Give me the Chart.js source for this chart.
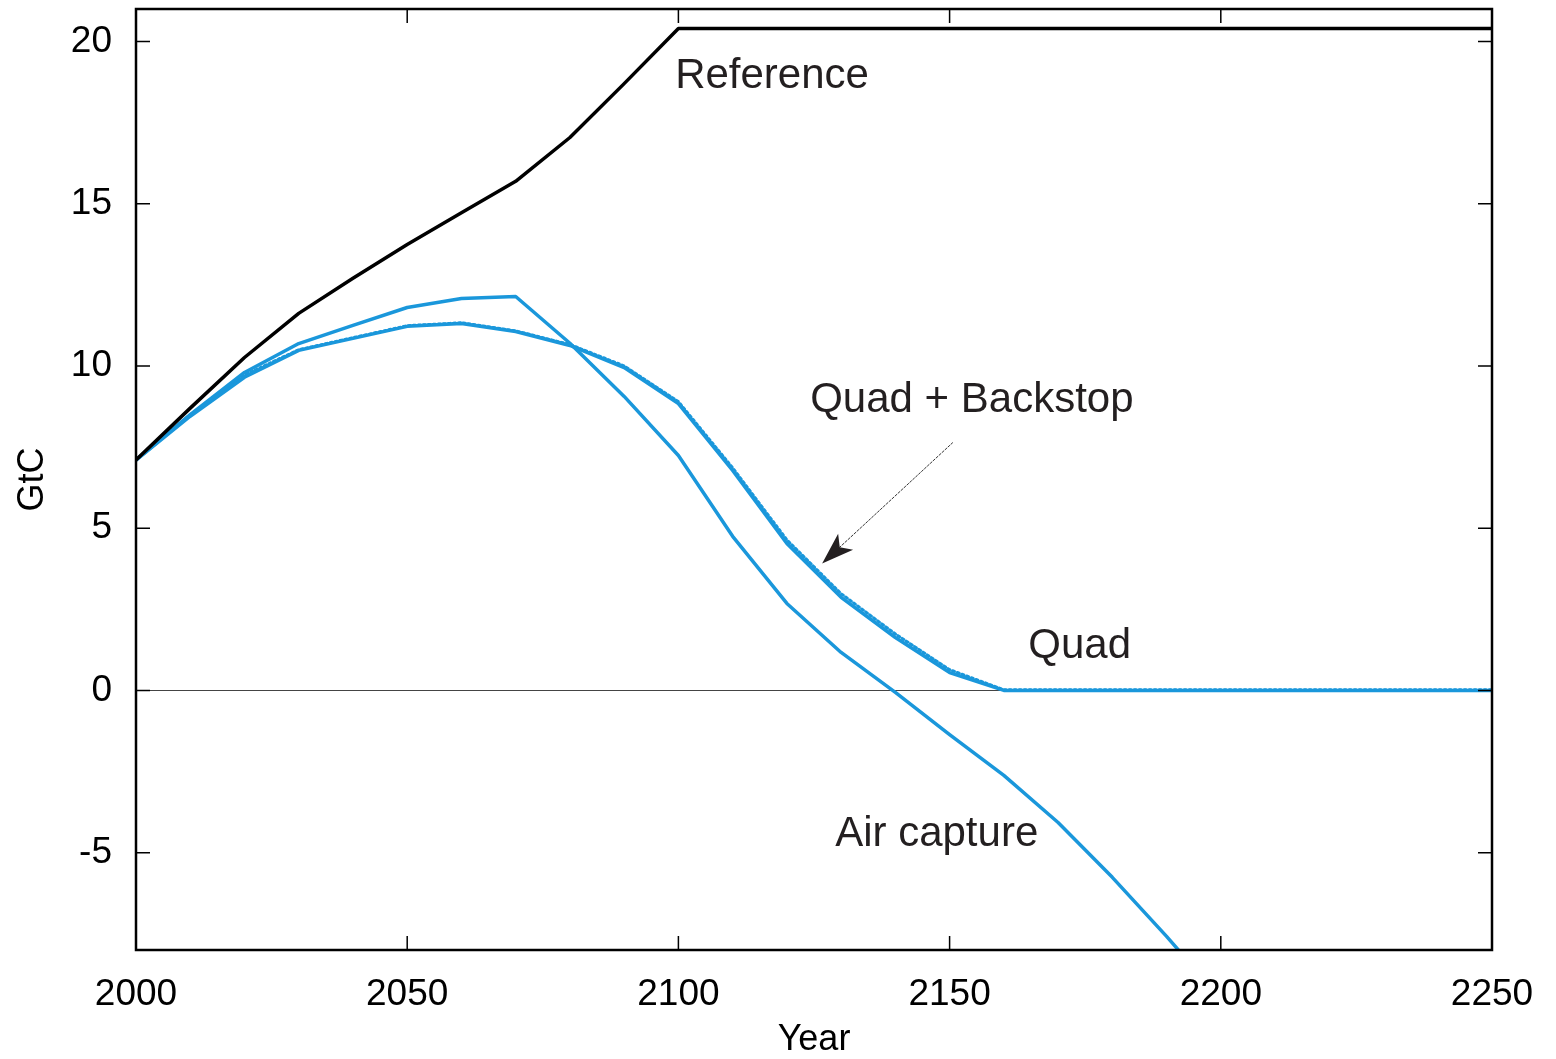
<!DOCTYPE html>
<html>
<head>
<meta charset="utf-8">
<script src="https://cdn.jsdelivr.net/npm/chart.js@4.4.1/dist/chart.umd.min.js"></script>
<style>
  html, body { margin: 0; padding: 0; background: #fff; }
  #wrap { width: 1556px; height: 1059px; }
</style>
</head>
<body>
<div id="wrap"><canvas id="chart" width="1556" height="1059"></canvas></div>
<script>
// years sampled every decade
const years = [2000, 2010, 2020, 2030, 2040, 2050, 2060, 2070, 2080, 2090, 2100,
  2110, 2120, 2130, 2140, 2150, 2160, 2170, 2180, 2190, 2200, 2210, 2220, 2230, 2240, 2250];

const reference = [7.1, 8.7, 10.26, 11.62, 12.7, 13.74, 14.72, 15.69, 17.04, 18.7, 20.4,
  20.4, 20.4, 20.4, 20.4, 20.4, 20.4, 20.4, 20.4, 20.4, 20.4, 20.4, 20.4, 20.4, 20.4, 20.4];

const airCapture = [7.1, 8.5, 9.8, 10.69, 11.25, 11.8, 12.08, 12.14, 10.7, 9.06, 7.24,
  4.75, 2.68, 1.17, -0.06, -1.36, -2.62, -4.07, -5.76, -7.58, -9.5, null, null, null, null, null];

const quad = [7.1, 8.45, 9.65, 10.48, 10.85, 11.22, 11.31, 11.06, 10.63, 9.95, 8.84,
  6.78, 4.53, 2.87, 1.63, 0.55, 0, 0, 0, 0, 0, 0, 0, 0, 0, 0];

const quadBackstop = [7.1, 8.5, 9.72, 10.5, 10.87, 11.24, 11.33, 11.08, 10.66, 10.0, 8.9,
  6.86, 4.64, 2.98, 1.74, 0.64, 0.02, 0.02, 0.02, 0.02, 0.02, 0.02, 0.02, 0.02, 0.02, 0.02];

const xTicks = [2000, 2050, 2100, 2150, 2200, 2250];
const yTicks = [-5, 0, 5, 10, 15, 20];

// text labels placed in data units: [text, year, value(baseline)]
const labels = [
  ["Reference", 2099.4, 18.55],
  ["Quad + Backstop", 2124.3, 8.57],
  ["Quad", 2164.5, 0.99],
  ["Air capture", 2128.9, -4.78]
];
// arrow from [year, value] to [year, value]
const arrowFrom = [2150.6, 7.64];
const arrowTo = [2126.5, 3.91];

const BLUE = "#1a97db";
const FONT = "'Liberation Sans', Arial, sans-serif";

const toPts = (arr) => years.map((y, i) => ({ x: y, y: arr[i] }));

const framePlugin = {
  id: "frame",
  afterDraw(chart) {
    const { ctx, chartArea: a, scales } = chart;
    ctx.save();
    // inward ticks on all four sides
    ctx.strokeStyle = "#000";
    ctx.lineWidth = 1.5;
    const len = 14;
    ctx.beginPath();
    xTicks.forEach((v) => {
      const px = scales.x.getPixelForValue(v);
      ctx.moveTo(px, a.bottom); ctx.lineTo(px, a.bottom - len);
      ctx.moveTo(px, a.top); ctx.lineTo(px, a.top + len);
    });
    yTicks.forEach((v) => {
      const py = scales.y.getPixelForValue(v);
      ctx.moveTo(a.left, py); ctx.lineTo(a.left + len, py);
      ctx.moveTo(a.right, py); ctx.lineTo(a.right - len, py);
    });
    ctx.stroke();
    // box
    ctx.lineWidth = 2.5;
    ctx.strokeRect(a.left, a.top, a.right - a.left, a.bottom - a.top);

    // annotations
    ctx.fillStyle = "#231f20";
    ctx.font = "42px " + FONT;
    ctx.textBaseline = "alphabetic";
    ctx.textAlign = "left";
    labels.forEach(([t, x, y]) => {
      ctx.fillText(t, scales.x.getPixelForValue(x), scales.y.getPixelForValue(y));
    });

    // arrow
    const x1 = scales.x.getPixelForValue(arrowFrom[0]);
    const y1 = scales.y.getPixelForValue(arrowFrom[1]);
    const x2 = scales.x.getPixelForValue(arrowTo[0]);
    const y2 = scales.y.getPixelForValue(arrowTo[1]);
    const ang = Math.atan2(y2 - y1, x2 - x1);
    const headLen = 32, headW = 11;
    const bx = x2 - headLen * Math.cos(ang), by = y2 - headLen * Math.sin(ang);
    ctx.strokeStyle = "#333";
    ctx.lineWidth = 1;
    ctx.setLineDash([3, 1]);
    ctx.beginPath();
    ctx.moveTo(x1, y1);
    ctx.lineTo(bx + 8 * Math.cos(ang), by + 8 * Math.sin(ang));
    ctx.stroke();
    ctx.setLineDash([]);
    ctx.fillStyle = "#231f20";
    ctx.beginPath();
    ctx.moveTo(x2, y2);
    ctx.lineTo(bx + headW * Math.sin(ang), by - headW * Math.cos(ang));
    ctx.lineTo(bx + 8 * Math.cos(ang), by + 8 * Math.sin(ang));
    ctx.lineTo(bx - headW * Math.sin(ang), by + headW * Math.cos(ang));
    ctx.closePath();
    ctx.fill();
    ctx.restore();
  }
};

new Chart(document.getElementById("chart").getContext("2d"), {
  type: "line",
  data: {
    datasets: [
      { label: "Reference", data: toPts(reference), borderColor: "#000", borderWidth: 3.5 },
      { label: "Air capture", data: toPts(airCapture), borderColor: BLUE, borderWidth: 3.5 },
      { label: "Quad", data: toPts(quad), borderColor: BLUE, borderWidth: 3.5 },
      { label: "Quad + Backstop", data: toPts(quadBackstop), borderColor: BLUE, borderWidth: 3, borderDash: [2, 3] }
    ]
  },
  options: {
    responsive: false,
    animation: false,
    events: [],
    layout: { padding: { left: 0, right: 64, top: 9, bottom: 0 } },
    elements: { point: { radius: 0 }, line: { tension: 0, borderCapStyle: "round", borderJoinStyle: "round" } },
    plugins: { legend: { display: false }, tooltip: { enabled: false } },
    scales: {
      x: {
        type: "linear",
        min: 2000,
        max: 2250,
        afterBuildTicks: (s) => { s.ticks = xTicks.map((v) => ({ value: v })); },
        afterFit: (s) => { s.height = 109; s.paddingLeft = 0; s.paddingRight = 0; },
        grid: { display: false, drawTicks: false },
        border: { display: false },
        ticks: { color: "#000", font: { family: FONT, size: 37 }, padding: 23, maxRotation: 0,
          callback: (v) => String(v) },
        title: { display: true, text: "Year", color: "#000", font: { family: FONT, size: 36 }, padding: { bottom: -3, top: 0 } }
      },
      y: {
        min: -8,
        max: 21,
        afterBuildTicks: (s) => { s.ticks = yTicks.map((v) => ({ value: v })); },
        afterFit: (s) => { s.width = 136; s.paddingTop = 0; s.paddingBottom = 0; },
        grid: {
          drawTicks: false,
          color: (c) => (c.tick && c.tick.value === 0 ? "#444" : "rgba(0,0,0,0)"),
          lineWidth: 1
        },
        border: { display: false },
        ticks: { color: "#000", font: { family: FONT, size: 37 }, padding: 24,
          callback: (v) => String(v) },
        title: { display: true, text: "GtC", color: "#000", font: { family: FONT, size: 36 }, padding: { top: 11, bottom: 0 } }
      }
    }
  },
  plugins: [framePlugin]
});
</script>
</body>
</html>
